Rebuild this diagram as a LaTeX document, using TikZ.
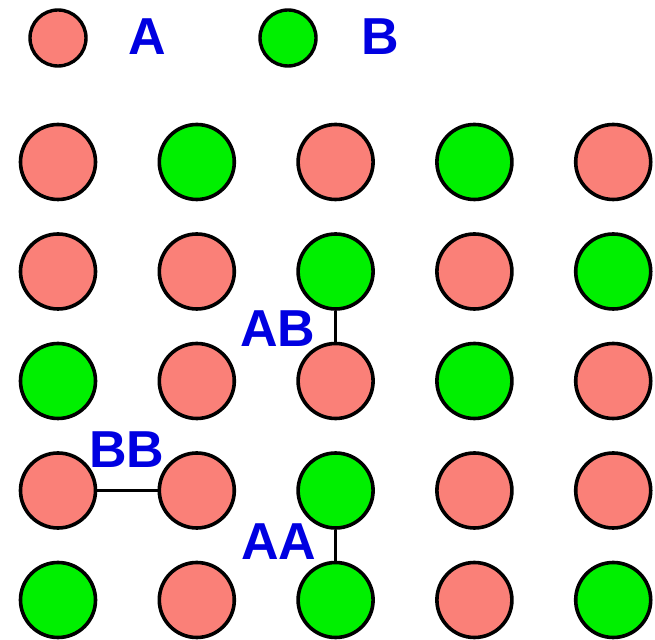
\documentclass[tikz,border=0pt]{standalone}
\usepackage{fontspec}
\setmainfont{Liberation Sans}
\usetikzlibrary{positioning}
\definecolor{cPink}{RGB}{250,128,120}
\definecolor{cGreen}{RGB}{0,240,0}
\definecolor{cLabel}{RGB}{0,0,225}
\tikzset{
	atomA/.style={circle, draw=black, line width=3.6pt, fill=cPink, minimum size=75pt, inner sep=0pt},
	atomB/.style={atomA, fill=cGreen},
	keyA/.style ={atomA, line width=3.4pt, minimum size=56pt},
	keyB/.style ={keyA, fill=cGreen},
	lbl/.style  ={text=cLabel, font=\fontsize{52}{60}\selectfont\bfseries, inner sep=0pt},
	bond/.style ={line width=3.4pt},
}
\begin{document}
\begin{tikzpicture}[x=1pt, y=1pt]
	\useasboundingbox (0,0) rectangle (655,639);
	% legend
	\node[keyA] (kA) at (58,601) {};
	\node[lbl]  (lA) at (147,602) {A};
	\node[keyB] (kB) at (288,601) {};
	\node[lbl]  (lB) at (380,602) {B};
	% lattice, rows counted from the top
	\foreach \r/\row in {1/{A,B,A,B,A}, 2/{A,A,B,A,B}, 3/{B,A,A,B,A}, 4/{A,A,B,A,A}, 5/{B,A,B,A,B}}
	\foreach \t [count=\c] in \row
	\node[atom\t] (c-\r-\c) at ({58+138.8*(\c-1)}, {477-109.5*(\r-1)}) {};
	% pair bonds
	\draw[bond] (c-2-3) -- (c-3-3);
	\draw[bond] (c-4-1) -- (c-4-2);
	\draw[bond] (c-4-3) -- (c-5-3);
	\node[lbl] (lAB) at (278,310) {AB};
	\node[lbl] (lBB) at (127,189) {BB};
	\node[lbl] (lAA) at (279,97) {AA};
\end{tikzpicture}
\end{document}
